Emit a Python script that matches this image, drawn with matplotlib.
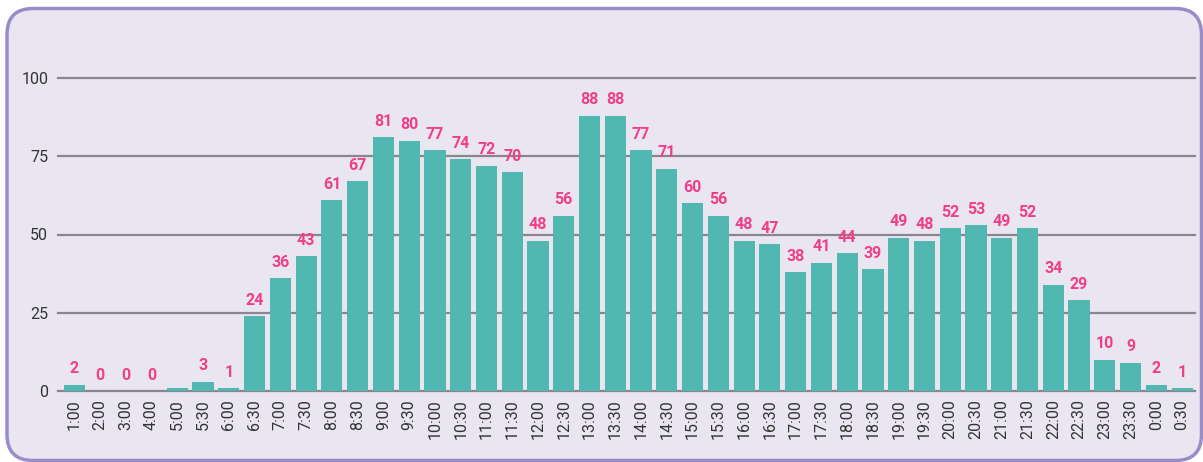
import matplotlib
matplotlib.use("Agg")
import matplotlib.pyplot as plt
from matplotlib.patches import FancyBboxPatch

times = ["1:00", "2:00", "3:00", "4:00", "5:00", "5:30", "6:00", "6:30", "7:00", "7:30",
         "8:00", "8:30", "9:00", "9:30", "10:00", "10:30", "11:00", "11:30", "12:00", "12:30",
         "13:00", "13:30", "14:00", "14:30", "15:00", "15:30", "16:00", "16:30", "17:00", "17:30",
         "18:00", "18:30", "19:00", "19:30", "20:00", "20:30", "21:00", "21:30", "22:00", "22:30",
         "23:00", "23:30", "0:00", "0:30"]
values = [2, 0, 0, 0, 1, 3, 1, 24, 36, 43,
          61, 67, 81, 80, 77, 74, 72, 70, 48, 56,
          88, 88, 77, 71, 60, 56, 48, 47, 38, 41,
          44, 39, 49, 48, 52, 53, 49, 52, 34, 29,
          10, 9, 2, 1]
# 5:00 has a bar but no label in the original
labels = ["2", "0", "0", "0", "", "3", "1", "24", "36", "43",
          "61", "67", "81", "80", "77", "74", "72", "70", "48", "56",
          "88", "88", "77", "71", "60", "56", "48", "47", "38", "41",
          "44", "39", "49", "48", "52", "53", "49", "52", "34", "29",
          "10", "9", "2", "1"]

bg = "#e9e5f1"
teal = "#50b8b1"
pink = "#ef3f8b"
grid_col = "#8a8590"

plt.rcParams['font.family'] = ['Roboto', 'DejaVu Sans']

W, H = 1203, 462
fig = plt.figure(figsize=(W / 100, H / 100), dpi=100)
fig.patch.set_facecolor("white")

# background axes in pixel units for the rounded card
bax = fig.add_axes([0, 0, 1, 1], zorder=0)
bax.set_xlim(0, W)
bax.set_ylim(0, H)
bax.axis("off")
card = FancyBboxPatch((7, 1.5), W - 8.5, H - 10,
                      boxstyle="round,pad=0,rounding_size=26",
                      facecolor=bg, edgecolor="#9a8cc6", linewidth=2.5)
bax.add_patch(card)

ax = fig.add_axes([58 / W, (H - 391) / H, 1137 / W, 313 / H], zorder=1)
ax.set_facecolor("none")

x = range(len(times))
ax.bar(x, values, width=0.82, color=teal, zorder=3)

for i, (v, lab) in enumerate(zip(values, labels)):
    if lab:
        ax.annotate(lab, (i, v), xytext=(0, 6), textcoords="offset points",
                    ha="center", va="bottom", color=pink, fontsize=11.5,
                    fontweight="bold", zorder=4)

ax.set_xlim(-0.63, len(times) - 0.5)
ax.set_ylim(0, 100)
ax.set_yticks([0, 25, 50, 75, 100])
for yv in [0, 25, 50, 75, 100]:
    ax.axhline(yv, color=grid_col, linewidth=1.6, zorder=1, clip_on=False)

ax.set_xticks(list(x))
ax.set_xticklabels(times, rotation=90, fontsize=11.5, color="#333333")
ax.tick_params(axis="y", labelsize=11.5, colors="#333333", length=0, pad=7)
ax.tick_params(axis="x", length=0, pad=6)
for s in ax.spines.values():
    s.set_visible(False)

fig.savefig("out.png", dpi=100, facecolor=fig.get_facecolor())
